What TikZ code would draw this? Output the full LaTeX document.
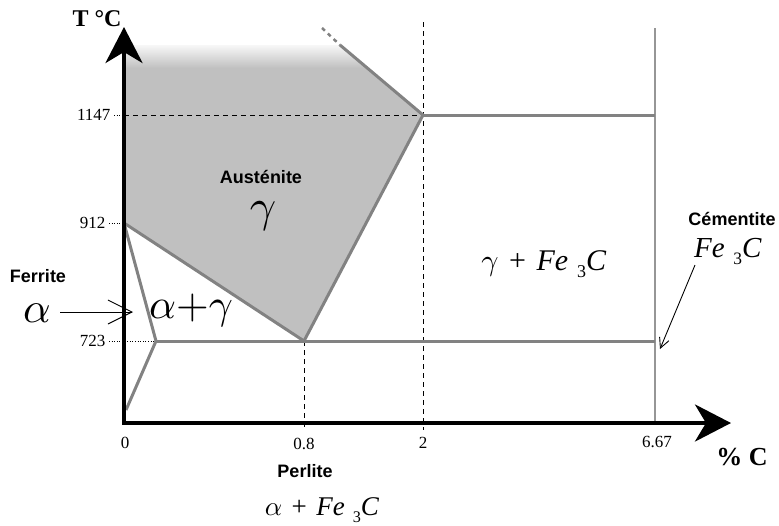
\documentclass[tikz,border=0pt]{standalone}
\usepackage{fontspec}
\usepackage{graphicx}
\setmainfont{Liberation Serif}
\newfontfamily\sansb{Liberation Sans}
\usetikzlibrary{arrows.meta}
\definecolor{austgray}{RGB}{192,192,192}
\definecolor{linegray}{RGB}{130,130,130}
\definecolor{thingray}{RGB}{150,150,150}
\newcommand{\FeC}{\textit{Fe}\hspace{0.3em}\raisebox{-0.26em}{\scalebox{0.6}{3}}\textit{C}}
\newcommand{\fs}[1]{\fontsize{#1}{#1}\selectfont}
\newcommand{\gk}[2]{\scalebox{#1}{\fontsize{10}{10}\selectfont$#2$}}
\begin{document}
\begin{tikzpicture}[x=1pt,y=-1pt,
  axis/.style={line width=4pt,-{Stealth[length=36pt,width=37pt,inset=11pt]}},
  phase/.style={draw=linegray,line width=3pt,line join=round},
  guide/.style={line width=0.8pt,dash pattern=on 5pt off 4pt},
  dotguide/.style={line width=0.8pt,dash pattern=on 1pt off 1.6pt},
  ticklab/.style={font=\fs{17}},
  sanslab/.style={font=\sansb\bfseries\fs{18},inner sep=1pt},
  greek/.style={inner sep=0pt,text height=0.43em,text depth=0.2em,anchor=base},
  pointer/.style={line width=0.9pt,-{Straight Barb[length=#1,width=#1]}}]
\useasboundingbox (0,0) rectangle (779,525);
% key points
\coordinate (O) at (124,423);
\coordinate (Ytip) at (124,27);
\coordinate (Xtip) at (731,423);
\coordinate (A) at (340,45);
\coordinate (D) at (322,28);
\coordinate (E) at (423,115);
\coordinate (S) at (304,341);
\coordinate (G) at (124,223);
\coordinate (P) at (156,341);
\coordinate (Q) at (126,410);
\coordinate (K) at (655,115);
\coordinate (Kp) at (655,341);
\coordinate (Ktop) at (655,28);
\coordinate (Etop) at (423,22);
\coordinate (Ebot) at (423,430);
\coordinate (Sbot) at (304,430);
\coordinate (Y1147) at (124,115);
\coordinate (L1147) at (114,115);
\coordinate (L912) at (109,223);
\coordinate (L723) at (109,341);
% austenite field
\begin{scope}
  \clip (124,45) -- (A) -- (E) -- (S) -- (G) -- cycle;
  \fill[austgray] (124,40) rectangle (430,345);
  \shade[top color=gray!6, bottom color=austgray] (124,45) rectangle (430,68);
\end{scope}
% guide lines
\draw[guide] (Y1147) -- (E);
\draw[guide] (Etop) -- (Ebot);
\draw[guide] (S) -- (Sbot);
\draw[dotguide] (L1147) -- (Y1147);
\draw[dotguide] (L912) -- (G);
\draw[dotguide] (L723) -- (P);
\draw[draw=thingray,line width=1.6pt] (Ktop) -- (O -| Ktop);
% phase boundaries
\draw[phase,dash pattern=on 4pt off 4pt,line width=2.5pt] (D) -- (A);
\draw[phase] (A) -- (E) -- (S) -- (G);
\draw[phase] (G) -- (P) -- (Q);
\draw[phase] (P) -- (Kp);
\draw[phase] (E) -- (K);
% axes
\draw[axis] ([yshift=2pt]O) -- (Ytip);
\draw[axis] ([xshift=-2pt]O) -- (Xtip);
% labels
\node[font=\bfseries\fs{24}] (tlab) at (97,19) {T °C};
\node[font=\bfseries\fs{26}] (clab) at (742,457) {\% C};
\node[ticklab,anchor=east] (t1147) at (L1147) {1147};
\node[ticklab,anchor=east] (t912) at (L912) {912};
\node[ticklab,anchor=east] (t723) at (L723) {723};
\node[ticklab] (x0) at (125,443) {0};
\node[ticklab] (x08) at (304,444) {0.8};
\node[ticklab] (x2) at (423,443) {2};
\node[ticklab] (x667) at (657,442) {6.67};
\node[sanslab] (aust) at (261,177) {Austénite};
\node[greek,font=\fs{46}] (gam) at (263,221) {\gk{4.6}{\gamma}};
\node[greek,font=\fs{44}] (ag) at (191,318) {\gk{4.2}{\alpha{+}\gamma}};
\node[sanslab] (ferr) at (38,276) {Ferrite};
\node[greek,font=\fs{44}] (alf) at (37,322) {\gk{4.3}{\alpha}};
\node[font=\fs{30},anchor=base] (gfe) at (544,270) {\gk{3.0}{\gamma}\hspace{0.35em}+\hspace{0.35em}\FeC};
\node[sanslab] (cem) at (732,219) {Cémentite};
\node[font=\fs{29},anchor=base] (cfe) at (728,257) {\FeC};
\node[sanslab] (perl) at (305,471) {Perlite};
\node[font=\fs{27},anchor=base] (afe) at (322,515) {\gk{2.7}{\alpha}\hspace{0.35em}+\hspace{0.35em}\FeC};
% pointers
\coordinate (fa) at (133,312);
\coordinate (ca) at (660,349);
\coordinate (fs) at (60,312);
\coordinate (cs) at (695,265);
\draw[pointer=24pt] (fs) -- (fa);
\draw[pointer=10pt] (cs) -- (ca);
\end{tikzpicture}
\end{document}
